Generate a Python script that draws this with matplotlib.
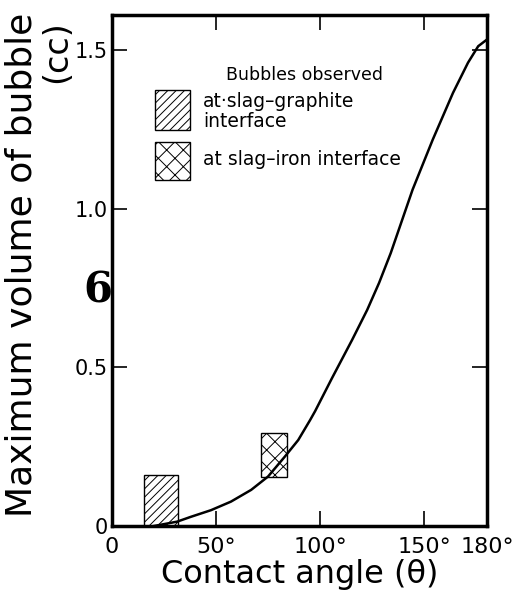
import matplotlib
matplotlib.use("Agg")
import matplotlib.pyplot as plt
from matplotlib.patches import Rectangle

# curve: contact angle (deg) vs maximum bubble volume (cc)
angle = [20, 31.3, 37.8, 47.5, 57.1, 66.8, 74.9, 83.0, 89.4, 95.1, 97.5, 105.6,
         115.3, 122.5, 128.2, 133.8, 144.3, 154.0, 163.7, 170.9, 175.8, 180]
volume = [0.0, 0.014, 0.029, 0.050, 0.077, 0.114, 0.156, 0.219, 0.271, 0.334, 0.362, 0.466,
          0.587, 0.681, 0.766, 0.860, 1.060, 1.218, 1.365, 1.460, 1.512, 1.533]

# observed bubble ranges: (x0, x1, y0, y1)
graphite_box = (15.5, 31.6, 0.0, 0.161)
iron_box = (71.5, 84.0, 0.155, 0.292)

xticks = [0, 50, 100, 150, 180]
xticklabels = ["0", "50°", "100°", "150°", "180°"]
yticks = [0, 0.5, 1.0, 1.5]
yticklabels = ["0", "0.5", "1.0", "1.5"]

plt.rcParams['hatch.linewidth'] = 0.7
fig = plt.figure(figsize=(5.17, 6.11), dpi=100)
ax = fig.add_axes([0.2166, 0.139, 0.7253, 0.8363])
ax.set_xlim(0, 180)
ax.set_ylim(0, 1.61)

ax.plot(angle, volume, color="black", lw=1.8, solid_joinstyle="round")

for (x0, x1, y0, y1), h in [(graphite_box, "////"), (iron_box, "xx")]:
    ax.add_patch(Rectangle((x0, y0), x1 - x0, y1 - y0, facecolor="white",
                           edgecolor="black", hatch=h, lw=1.0, zorder=1))

# legend drawn manually
ax.text(92.5, 1.42, "Bubbles observed", fontsize=12.5, ha="center", va="center")
ax.add_patch(Rectangle((20.8, 1.249), 16.5, 0.126, facecolor="white",
                       edgecolor="black", hatch="////", lw=1.0))
ax.text(43.6, 1.337, "at·slag–graphite", fontsize=13.5, ha="left", va="center")
ax.text(43.6, 1.274, "interface", fontsize=13.5, ha="left", va="center")
ax.add_patch(Rectangle((20.8, 1.091), 16.5, 0.12, facecolor="white",
                       edgecolor="black", hatch="xx", lw=1.0))
ax.text(43.6, 1.155, "at slag–iron interface", fontsize=13.5, ha="left", va="center")

ax.set_xticks(xticks)
ax.set_xticklabels(xticklabels, fontsize=16)
ax.set_yticks(yticks)
ax.set_yticklabels(yticklabels, fontsize=15)
ax.tick_params(axis="both", direction="in", length=11, width=1.2,
               top=True, right=True)
ax.tick_params(axis="x", pad=8)
ax.tick_params(axis="y", pad=3)
for s in ax.spines.values():
    s.set_linewidth(2.5)

ax.set_xlabel("Contact angle (θ)", fontsize=23, labelpad=1)
fig.text(0.042, 0.566, "Maximum volume of bubble", rotation=90, fontsize=26,
         ha="center", va="center")
fig.text(0.11, 0.915, "(cc)", rotation=90, fontsize=24, ha="center", va="center")
fig.text(0.19, 0.525, "6", fontsize=30, fontweight="bold", family="DejaVu Serif",
         ha="center", va="center")

fig.savefig("out.png", dpi=100)
